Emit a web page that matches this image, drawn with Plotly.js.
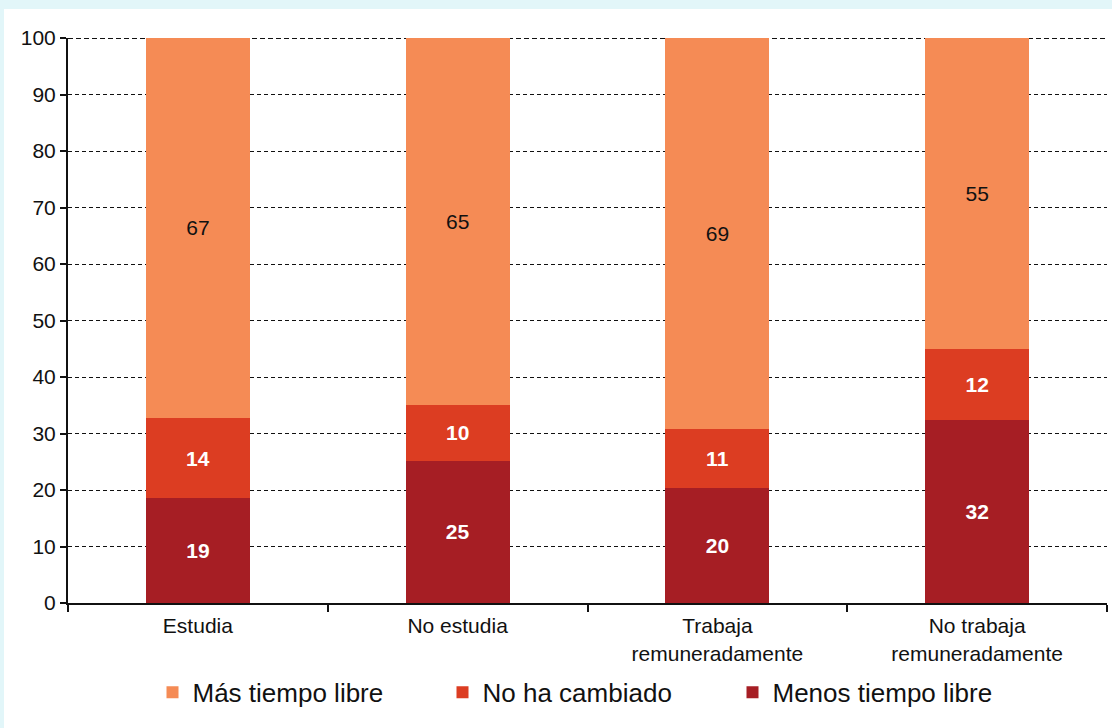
<!DOCTYPE html>
<html>
<head>
<meta charset="utf-8">
<script src="https://cdn.plot.ly/plotly-3.0.1.min.js"></script>
<style>
  html, body { margin: 0; padding: 0; background: #e2f6f9; width: 1112px; height: 728px; overflow: hidden; }
  #chart { position: absolute; left: 4px; top: 9px; width: 1108px; height: 719px; background: #ffffff; }
</style>
</head>
<body>
<div id="chart"></div>
<script>
// Categories (x tick labels)
const categories = ["Estudia", "No estudia", "Trabaja<br>remuneradamente", "No trabaja<br>remuneradamente"];

// Segment heights
const menosTiempo = [18.5, 25.2, 20.4, 32.4];
const noHaCambiado = [14.3, 9.8, 10.4, 12.5];
const masTiempo = [67.2, 65.0, 69.2, 55.1];

// Printed labels
const menosLabels = ["19", "25", "20", "32"];
const noHaLabels = ["14", "10", "11", "12"];
const masLabels = ["67", "65", "69", "55"];

// y-axis ticks
const yTicks = [0, 10, 20, 30, 40, 50, 60, 70, 80, 90, 100];

const seriesNames = ["Menos tiempo libre", "No ha cambiado", "Más tiempo libre"];
const colors = ["#A61E24", "#DC3D22", "#F58B55"];

const FONT = "Liberation Sans, Arial, sans-serif";

function barTrace(name, y, labels, color, textColor, bold) {
  return {
    type: "bar",
    name: name,
    x: categories,
    y: y,
    text: labels,
    texttemplate: "%{text}",
    textposition: "inside",
    insidetextanchor: "middle",
    textangle: 0,
    constraintext: "none",
    textfont: { family: FONT, size: 21, color: textColor, weight: bold ? "bold" : "normal" },
    marker: { color: color, line: { width: 0 } },
    width: 0.4,
    hoverinfo: "skip"
  };
}

const data = [
  barTrace(seriesNames[0], menosTiempo, menosLabels, colors[0], "#ffffff", true),
  barTrace(seriesNames[1], noHaCambiado, noHaLabels, colors[1], "#ffffff", true),
  barTrace(seriesNames[2], masTiempo, masLabels, colors[2], "#111111", false)
];

const layout = {
  width: 1108,
  height: 719,
  paper_bgcolor: "#ffffff",
  plot_bgcolor: "#ffffff",
  barmode: "stack",
  bargap: 0.6,
  margin: { l: 64, r: 5, t: 29, b: 125 },
  font: { family: FONT, size: 20, color: "#111111" },
  xaxis: {
    type: "category",
    showgrid: false,
    zeroline: false,
    showline: true,
    linecolor: "#111111",
    linewidth: 2,
    ticks: "outside",
    tickson: "boundaries",
    ticklen: 7,
    tickwidth: 2,
    tickcolor: "#111111",
    ticklabelstandoff: 3,
    tickfont: { family: FONT, size: 21, color: "#111111" },
    fixedrange: true
  },
  yaxis: {
    range: [0, 100],
    tickvals: yTicks,
    showgrid: true,
    gridcolor: "#111111",
    gridwidth: 1,
    griddash: "4px,3px",
    zeroline: false,
    showline: true,
    linecolor: "#111111",
    linewidth: 2,
    ticks: "outside",
    ticklen: 6,
    tickwidth: 2,
    tickcolor: "#111111",
    tickfont: { family: FONT, size: 21, color: "#111111" },
    fixedrange: true
  },
  shapes: [
    { type: "line", xref: "paper", yref: "y", x0: 0, x1: 1, y0: 100, y1: 100,
      line: { color: "#111111", width: 2, dash: "5px,3px" }, layer: "below" }
  ],
  showlegend: true,
  legend: {
    orientation: "h",
    traceorder: "reversed",
    x: 0.5,
    xanchor: "center",
    y: -0.158,
    yanchor: "middle",
    font: { family: FONT, size: 26, color: "#111111" },
    entrywidth: 245,
    entrywidthmode: "pixels",
    itemclick: false,
    itemdoubleclick: false
  }
};

Plotly.newPlot("chart", data, layout, { displayModeBar: false, staticPlot: true });
</script>
</body>
</html>
